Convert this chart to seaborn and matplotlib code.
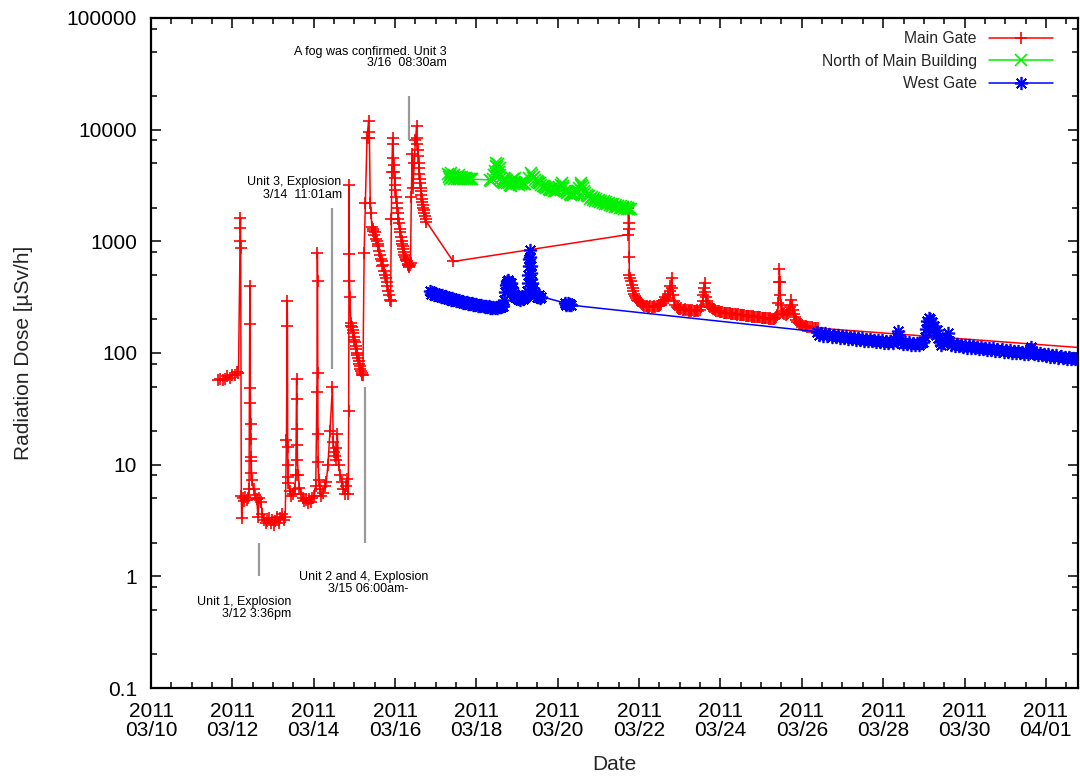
import numpy as np
import pandas as pd
import matplotlib
matplotlib.use("Agg")
import matplotlib.pyplot as plt
import matplotlib.dates as mdates
from matplotlib.ticker import LogLocator, NullFormatter
import seaborn as sns

# ---------------- data: (day of March 2011 with fraction, dose uSv/h) ----------------
main_gate = [
    (11.64, 57), (11.70, 58), (11.76, 57), (11.82, 59), (11.88, 62), (11.94, 60), (12.00, 64),
    (12.06, 63), (12.11, 67), (12.15, 66), (12.19, 1000), (12.195, 1320), (12.20, 1630),
    (12.205, 870), (12.22, 5.2), (12.23, 3.3), (12.26, 5.0), (12.29, 4.7), (12.32, 5.1),
    (12.35, 4.8), (12.38, 5.0), (12.41, 6.0), (12.43, 400), (12.435, 180), (12.44, 49),
    (12.445, 36), (12.45, 23), (12.455, 17), (12.46, 11.7), (12.465, 10.7), (12.47, 8.5),
    (12.48, 7.3), (12.52, 6.0), (12.56, 5.3), (12.60, 4.9), (12.63, 3.4), (12.66, 5.0),
    (12.70, 4.6), (12.74, 3.6), (12.78, 3.2), (12.82, 3.0), (12.86, 3.1), (12.90, 3.3),
    (12.94, 3.0), (12.98, 3.2), (13.02, 2.9), (13.06, 3.1), (13.10, 3.4), (13.14, 3.0),
    (13.18, 3.3), (13.22, 3.6), (13.26, 3.2), (13.30, 3.4), (13.33, 16.6), (13.35, 290),
    (13.355, 174), (13.36, 14.5), (13.365, 10), (13.37, 7.8), (13.38, 6.9), (13.41, 5.8),
    (13.45, 5.2), (13.49, 5.5), (13.53, 6.0), (13.56, 8), (13.58, 59), (13.585, 39),
    (13.59, 21), (13.595, 15), (13.60, 11), (13.62, 8), (13.65, 6.2), (13.69, 5.5),
    (13.73, 5.0), (13.77, 4.7), (13.81, 4.8), (13.85, 4.5), (13.89, 4.9), (13.93, 4.6),
    (13.97, 5.0), (14.01, 5.2), (14.05, 6.5), (14.08, 45), (14.09, 790), (14.095, 440),
    (14.10, 66), (14.105, 19), (14.11, 10.5), (14.12, 7.3), (14.15, 6.0), (14.19, 5.2),
    (14.23, 5.6), (14.27, 6.5), (14.31, 7.0), (14.35, 10), (14.40, 20), (14.46, 50),
    (14.48, 16), (14.50, 13), (14.52, 12), (14.54, 14), (14.56, 11), (14.58, 19),
    (14.61, 10), (14.65, 8), (14.69, 7), (14.73, 6), (14.77, 5.5), (14.80, 6.5),
    (14.83, 7.5), (14.85, 5.5), (14.86, 30), (14.87, 3200), (14.875, 770), (14.88, 440),
    (14.89, 320), (14.91, 186), (14.925, 175), (14.94, 170), (14.955, 160), (14.97, 150),
    (14.985, 140), (15.00, 130), (15.015, 125), (15.03, 115), (15.045, 108), (15.06, 100),
    (15.075, 95), (15.09, 90), (15.105, 85), (15.12, 80), (15.135, 76), (15.15, 72),
    (15.165, 69), (15.18, 66), (15.195, 64), (15.21, 63), (15.24, 790), (15.27, 2200),
    (15.31, 8400), (15.35, 12000), (15.36, 9500), (15.37, 8400), (15.39, 2200),
    (15.41, 1800), (15.43, 1350), (15.45, 1250), (15.47, 1300), (15.49, 1150),
    (15.51, 1200), (15.53, 1050), (15.55, 1000), (15.57, 900), (15.59, 950), (15.61, 820),
    (15.63, 760), (15.65, 700), (15.67, 660), (15.69, 600), (15.71, 620), (15.73, 540),
    (15.75, 500), (15.77, 470), (15.79, 430), (15.81, 400), (15.83, 360), (15.85, 330),
    (15.87, 300), (15.89, 290), (15.91, 1600), (15.92, 4200), (15.94, 8500), (15.95, 7500),
    (15.96, 5600), (15.97, 4800), (15.98, 4200), (15.99, 3700), (16.00, 3200),
    (16.01, 2900), (16.02, 2500), (16.04, 2200), (16.05, 2000), (16.07, 1800),
    (16.08, 1600), (16.10, 1450), (16.11, 1300), (16.13, 1200), (16.14, 1100),
    (16.16, 1000), (16.17, 950), (16.19, 900), (16.20, 850), (16.22, 800), (16.23, 760),
    (16.25, 720), (16.26, 700), (16.28, 680), (16.29, 660), (16.31, 630), (16.32, 620),
    (16.34, 600), (16.35, 590), (16.37, 610), (16.38, 640), (16.40, 2500), (16.42, 6000),
    (16.44, 3000), (16.47, 5000), (16.50, 8000), (16.53, 10800), (16.54, 8500),
    (16.55, 7500), (16.56, 6600), (16.57, 5800), (16.58, 5000), (16.59, 4500),
    (16.60, 4000), (16.61, 3600), (16.62, 3300), (16.63, 3000), (16.64, 2800),
    (16.65, 2600), (16.66, 2400), (16.67, 2250), (16.68, 2100), (16.69, 2000),
    (16.71, 1900), (16.72, 1800), (16.74, 1700), (16.75, 1600), (16.77, 1500),
    (17.43, 660), (21.73, 1150), (21.735, 2000), (21.74, 1800), (21.745, 1460),
    (21.75, 1300), (21.755, 720), (21.76, 500), (21.78, 470), (21.80, 440), (21.82, 410),
    (21.84, 380), (21.86, 360), (21.88, 340), (21.90, 325), (21.92, 310), (21.95, 300),
    (21.98, 292), (22.01, 285), (22.04, 280), (22.07, 275), (22.10, 270), (22.13, 266),
    (22.16, 263), (22.19, 262), (22.22, 260), (22.25, 258), (22.28, 262), (22.31, 256),
    (22.34, 258), (22.37, 262), (22.40, 258), (22.43, 262), (22.46, 265), (22.49, 262),
    (22.52, 270), (22.55, 275), (22.58, 290), (22.61, 300), (22.64, 320), (22.67, 300),
    (22.70, 340), (22.72, 310), (22.75, 400), (22.77, 360), (22.80, 470), (22.82, 380),
    (22.84, 330), (22.86, 290), (22.89, 270), (22.92, 260), (22.95, 255), (22.98, 250),
    (23.01, 248), (23.04, 252), (23.07, 245), (23.10, 245), (23.13, 248), (23.16, 242),
    (23.19, 244), (23.22, 240), (23.25, 243), (23.28, 240), (23.31, 242), (23.34, 238),
    (23.37, 240), (23.40, 238), (23.43, 242), (23.46, 240), (23.50, 245), (23.53, 260),
    (23.56, 290), (23.58, 330), (23.60, 380), (23.61, 420), (23.62, 350), (23.64, 320),
    (23.66, 290), (23.69, 275), (23.72, 265), (23.75, 258), (23.78, 252), (23.81, 250),
    (23.84, 246), (23.87, 243), (23.90, 240), (23.93, 238), (23.96, 236), (23.99, 235),
    (24.02, 233), (24.05, 232), (24.08, 230), (24.11, 229), (24.14, 228), (24.17, 227),
    (24.20, 226), (24.23, 227), (24.26, 225), (24.29, 224), (24.32, 225), (24.35, 223),
    (24.38, 222), (24.41, 221), (24.44, 222), (24.47, 220), (24.50, 219), (24.53, 218),
    (24.56, 219), (24.59, 217), (24.62, 216), (24.65, 215), (24.68, 216), (24.71, 214),
    (24.74, 213), (24.77, 212), (24.80, 213), (24.83, 211), (24.86, 210), (24.89, 211),
    (24.92, 209), (24.95, 208), (24.98, 209), (25.01, 207), (25.04, 206), (25.07, 207),
    (25.10, 205), (25.13, 204), (25.16, 205), (25.19, 203), (25.22, 204), (25.25, 203),
    (25.28, 202), (25.31, 203), (25.34, 205), (25.37, 210), (25.40, 220), (25.42, 280),
    (25.44, 430), (25.45, 560), (25.46, 430), (25.47, 330), (25.49, 270), (25.51, 240),
    (25.54, 228), (25.57, 222), (25.60, 220), (25.63, 223), (25.66, 228), (25.69, 240),
    (25.72, 260), (25.74, 300), (25.76, 270), (25.78, 245), (25.80, 225), (25.83, 210),
    (25.86, 198), (25.89, 190), (25.92, 185), (25.95, 182), (25.98, 180), (26.01, 178),
    (26.04, 176), (26.07, 174), (26.10, 173), (26.13, 172), (26.16, 171), (26.20, 170),
    (26.24, 170), (26.28, 169), (26.32, 168), (26.36, 168), (26.40, 167), (32.95, 111),
]

north_building = [
    (17.30, 4000), (17.32, 3750), (17.34, 3900), (17.36, 3650), (17.38, 4100), (17.40, 3700),
    (17.42, 3850), (17.44, 3600), (17.46, 3950), (17.48, 3700), (17.50, 3800), (17.52, 3650),
    (17.54, 3750), (17.56, 3900), (17.58, 3650), (17.60, 3750), (17.62, 3700), (17.64, 3800),
    (17.66, 3650), (17.69, 3700), (17.72, 3650), (17.75, 3700), (17.78, 3600), (17.81, 3650),
    (17.84, 3600), (17.87, 3620), (17.90, 3600), (18.34, 3550), (18.37, 3500), (18.40, 3600),
    (18.43, 3900), (18.45, 4300), (18.47, 4700), (18.49, 5000), (18.51, 4600), (18.53, 4900),
    (18.55, 4200), (18.57, 4500), (18.59, 3900), (18.61, 3700), (18.63, 3500), (18.65, 3400),
    (18.67, 3600), (18.69, 3300), (18.71, 3400), (18.73, 3500), (18.76, 3300), (18.79, 3350),
    (18.82, 3200), (18.85, 3150), (18.88, 3300), (18.90, 3600), (18.92, 3400), (18.94, 3700),
    (18.96, 3400), (18.98, 3300), (19.01, 3250), (19.04, 3200), (19.07, 3300), (19.10, 3250),
    (19.13, 3300), (19.16, 3250), (19.20, 3250), (19.30, 3700), (19.33, 4100), (19.36, 3900),
    (19.39, 3700), (19.42, 3800), (19.45, 3550), (19.48, 3500), (19.51, 3400), (19.54, 3300),
    (19.57, 3350), (19.60, 3200), (19.63, 3150), (19.66, 3100), (19.69, 3050), (19.72, 3000),
    (19.75, 3050), (19.78, 2950), (19.81, 2900), (19.84, 2950), (19.87, 2900), (19.90, 2850),
    (19.93, 2900), (19.96, 2850), (19.99, 2900), (20.02, 2950), (20.05, 3000), (20.08, 3200),
    (20.10, 3350), (20.12, 3100), (20.14, 3000), (20.17, 2850), (20.20, 2800), (20.23, 2700),
    (20.26, 2750), (20.29, 2650), (20.32, 2600), (20.35, 2650), (20.38, 2600), (20.41, 2650),
    (20.44, 2700), (20.47, 2750), (20.50, 2850), (20.53, 3000), (20.56, 3200), (20.58, 3350),
    (20.60, 3100), (20.62, 3000), (20.65, 2800), (20.68, 2700), (20.71, 2600), (20.74, 2550),
    (20.77, 2550), (20.80, 2400), (20.83, 2500), (20.86, 2350), (20.89, 2450), (20.92, 2300),
    (20.95, 2400), (20.98, 2280), (21.01, 2360), (21.04, 2250), (21.07, 2320), (21.10, 2200),
    (21.13, 2290), (21.16, 2180), (21.19, 2250), (21.22, 2150), (21.25, 2220), (21.28, 2120),
    (21.31, 2180), (21.34, 2080), (21.37, 2150), (21.40, 2050), (21.43, 2120), (21.46, 2030),
    (21.49, 2090), (21.52, 2000), (21.55, 2060), (21.58, 1980), (21.61, 2040), (21.64, 1960),
    (21.67, 2010), (21.70, 1950), (21.73, 1990), (21.76, 1940), (21.79, 1960),
]

west_gate = [
    (16.86, 360), (16.89, 340), (16.92, 350), (16.95, 332), (16.98, 345), (17.01, 328),
    (17.04, 338), (17.07, 322), (17.10, 332), (17.13, 318), (17.16, 328), (17.19, 315),
    (17.22, 322), (17.25, 310), (17.28, 318), (17.31, 305), (17.34, 312), (17.37, 300),
    (17.40, 308), (17.43, 298), (17.46, 304), (17.49, 294), (17.52, 300), (17.55, 290),
    (17.58, 296), (17.61, 287), (17.64, 292), (17.67, 283), (17.70, 288), (17.73, 280),
    (17.76, 285), (17.79, 277), (17.82, 282), (17.85, 274), (17.88, 279), (17.91, 271),
    (17.94, 276), (17.97, 268), (18.00, 273), (18.03, 266), (18.06, 270), (18.09, 263),
    (18.12, 268), (18.15, 261), (18.18, 265), (18.21, 259), (18.24, 263), (18.27, 257),
    (18.30, 261), (18.33, 255), (18.36, 259), (18.39, 254), (18.42, 258), (18.45, 253),
    (18.48, 257), (18.51, 254), (18.54, 258), (18.57, 256), (18.60, 260), (18.63, 262),
    (18.66, 266), (18.68, 300), (18.70, 350), (18.72, 410), (18.74, 440), (18.76, 420),
    (18.78, 450), (18.80, 430), (18.82, 400), (18.84, 420), (18.86, 390), (18.88, 380),
    (18.90, 360), (18.92, 340), (18.94, 330), (18.96, 320), (18.99, 312), (19.02, 305),
    (19.05, 308), (19.08, 300), (19.11, 310), (19.14, 305), (19.17, 315), (19.20, 320),
    (19.23, 330), (19.25, 360), (19.27, 420), (19.28, 500), (19.29, 600), (19.30, 700),
    (19.31, 830), (19.32, 720), (19.33, 600), (19.34, 520), (19.35, 460), (19.36, 420),
    (19.38, 380), (19.40, 360), (19.42, 340), (19.45, 330), (19.48, 320), (19.51, 315),
    (19.54, 330), (19.57, 310), (19.60, 320), (20.18, 280), (20.21, 270), (20.24, 278),
    (20.27, 268), (20.30, 275), (20.33, 268),
    (26.38, 155), (26.43, 146), (26.48, 152), (26.53, 143), (26.58, 150), (26.63, 141),
    (26.68, 148), (26.73, 140), (26.78, 146), (26.83, 138), (26.88, 144), (26.93, 137),
    (26.98, 143), (27.03, 135), (27.08, 141), (27.13, 134), (27.18, 140), (27.23, 133),
    (27.28, 138), (27.33, 131), (27.38, 137), (27.43, 130), (27.48, 136), (27.53, 129),
    (27.58, 134), (27.63, 128), (27.68, 133), (27.73, 127), (27.78, 132), (27.83, 126),
    (27.88, 131), (27.93, 125), (27.98, 130), (28.03, 124), (28.08, 129), (28.13, 123),
    (28.18, 128), (28.23, 123), (28.28, 130), (28.33, 140), (28.36, 158), (28.39, 145),
    (28.43, 126), (28.48, 121), (28.53, 126), (28.58, 120), (28.63, 125), (28.68, 119),
    (28.73, 124), (28.78, 118), (28.83, 123), (28.88, 118), (28.93, 122), (28.98, 125),
    (29.02, 140), (29.05, 165), (29.08, 195), (29.10, 175), (29.12, 205), (29.14, 185),
    (29.16, 200), (29.18, 170), (29.20, 190), (29.23, 160), (29.26, 175), (29.29, 145),
    (29.32, 160), (29.35, 135), (29.39, 125), (29.43, 119), (29.47, 123), (29.51, 130),
    (29.55, 140), (29.59, 150), (29.62, 128), (29.66, 118), (29.71, 122), (29.76, 116),
    (29.81, 121), (29.86, 115), (29.91, 119), (29.96, 114), (30.01, 118), (30.06, 112),
    (30.11, 117), (30.16, 111), (30.21, 115), (30.26, 110), (30.31, 114), (30.36, 109),
    (30.41, 113), (30.46, 108), (30.51, 112), (30.56, 107), (30.61, 111), (30.66, 106),
    (30.71, 110), (30.76, 105), (30.81, 109), (30.86, 104), (30.91, 108), (30.96, 103),
    (31.01, 107), (31.06, 102), (31.11, 106), (31.16, 101), (31.21, 105), (31.26, 100),
    (31.31, 104), (31.36, 99), (31.41, 103), (31.46, 98), (31.51, 102), (31.56, 98),
    (31.61, 108), (31.64, 114), (31.67, 104), (31.71, 97), (31.76, 100), (31.81, 96),
    (31.86, 99), (31.91, 95), (31.96, 98), (32.01, 94), (32.06, 97), (32.11, 93),
    (32.16, 96), (32.21, 92), (32.26, 95), (32.31, 91), (32.36, 94), (32.41, 90),
    (32.46, 93), (32.51, 89), (32.56, 92), (32.61, 88), (32.66, 91), (32.71, 88),
    (32.76, 90),
]

series_names = ["Main Gate", "North of Main Building", "West Gate"]

ytick_vals = [0.1, 1, 10, 100, 1000, 10000, 100000]
ytick_labels = ["0.1", "1", "10", "100", "1000", "10000", "100000"]
xtick_days = [10, 12, 14, 16, 18, 20, 22, 24, 26, 28, 30, 32]
xtick_labels = ["2011\n03/10", "2011\n03/12", "2011\n03/14", "2011\n03/16",
                "2011\n03/18", "2011\n03/20", "2011\n03/22", "2011\n03/24",
                "2011\n03/26", "2011\n03/28", "2011\n03/30", "2011\n04/01"]

# event marker lines: day, low, high
event_days = [12.65, 14.46, 15.25, 16.354]
event_lo = [1.0, 72, 2.0, 8000]
event_hi = [2.0, 2000, 50, 20000]

base = pd.Timestamp("2011-03-01")


def to_dt(days):
    return base + pd.to_timedelta(np.asarray(days, dtype=float) - 1.0, unit="D")


# ---------------- style ----------------
sns.set_style("ticks")
plt.rcParams["font.family"] = ["Liberation Sans", "DejaVu Sans"]

fig = plt.figure(figsize=(10.8, 7.76), dpi=100)
W, H = 1080, 776
ax = fig.add_axes([151 / W, 1 - 688 / H, (1078 - 151) / W, (688 - 18) / H])
ax.set_yscale("log")

styles = [
    dict(color="#ff0000", marker="+", markersize=9),
    dict(color="#00f000", marker="x", markersize=8),
    dict(color="#0000ff", marker=(8, 2, 0), markersize=9.5),
]
for pts, name, st in zip([main_gate, north_building, west_gate], series_names, styles):
    d, v = zip(*pts)
    df = pd.DataFrame({"t": to_dt(d), "v": v})
    sns.lineplot(data=df, x="t", y="v", ax=ax, estimator=None, sort=False,
                 color=st["color"], marker=st["marker"], markersize=st["markersize"],
                 markeredgecolor=st["color"], markerfacecolor=st["color"],
                 markeredgewidth=1.2, linewidth=1.1, label=name)

for d, lo, hi in zip(event_days, event_lo, event_hi):
    ax.vlines(to_dt([d])[0], lo, hi, color="#9a9a9a", linewidth=1.6, zorder=5)

ax.set_ylim(0.1, 100000)
ax.set_xlim(to_dt([10.0])[0], to_dt([32.79])[0])

ax.set_yticks(ytick_vals, ytick_labels)
ax.yaxis.set_minor_locator(LogLocator(base=10, subs=[2, 5, 8], numticks=20))
ax.yaxis.set_minor_formatter(NullFormatter())
ax.set_xticks(to_dt(xtick_days), xtick_labels, linespacing=1.02)
ax.xaxis.set_minor_locator(mdates.HourLocator(byhour=[0, 12]))
ax.xaxis.set_minor_formatter(NullFormatter())

ax.tick_params(which="both", direction="in", top=True, right=True, colors="black")
ax.tick_params(which="major", length=7.5, width=1.1, labelsize=15)
ax.tick_params(which="minor", length=4, width=1.1)
ax.tick_params(axis="x", which="major", pad=10)
ax.tick_params(axis="y", which="major", pad=10)
for sp in ax.spines.values():
    sp.set_linewidth(1.6)
    sp.set_color("black")

ax.set_xlabel("Date", fontsize=15, labelpad=11)
ax.set_ylabel("Radiation Dose [\u00b5Sv/h]", fontsize=15, labelpad=24)

leg = ax.legend(loc="upper right", bbox_to_anchor=(1053 / W, 1 - 31 / H),
                bbox_transform=fig.transFigure, markerfirst=False, frameon=False,
                fontsize=11.3, handlelength=4.1, handletextpad=0.75, labelspacing=0.48,
                borderpad=0, borderaxespad=0)


def ftxt(x, y, s, ha):
    fig.text(x / W, 1 - y / H, s, ha=ha, va="center", fontsize=9, color="black")


ftxt(446.7, 51.7, "A fog was confirmed. Unit 3", "right")
ftxt(446.7, 63.3, "3/16  08:30am", "right")
ftxt(341.7, 181.7, "Unit 3, Explosion", "right")
ftxt(341.7, 195.0, "3/14  11:01am", "right")
ftxt(364.0, 576.7, "Unit 2 and 4, Explosion", "center")
ftxt(368.0, 589.0, "3/15 06:00am-", "center")
ftxt(291.0, 601.7, "Unit 1, Explosion", "right")
ftxt(291.0, 614.0, "3/12 3:36pm", "right")

fig.savefig("out.png", dpi=100)
